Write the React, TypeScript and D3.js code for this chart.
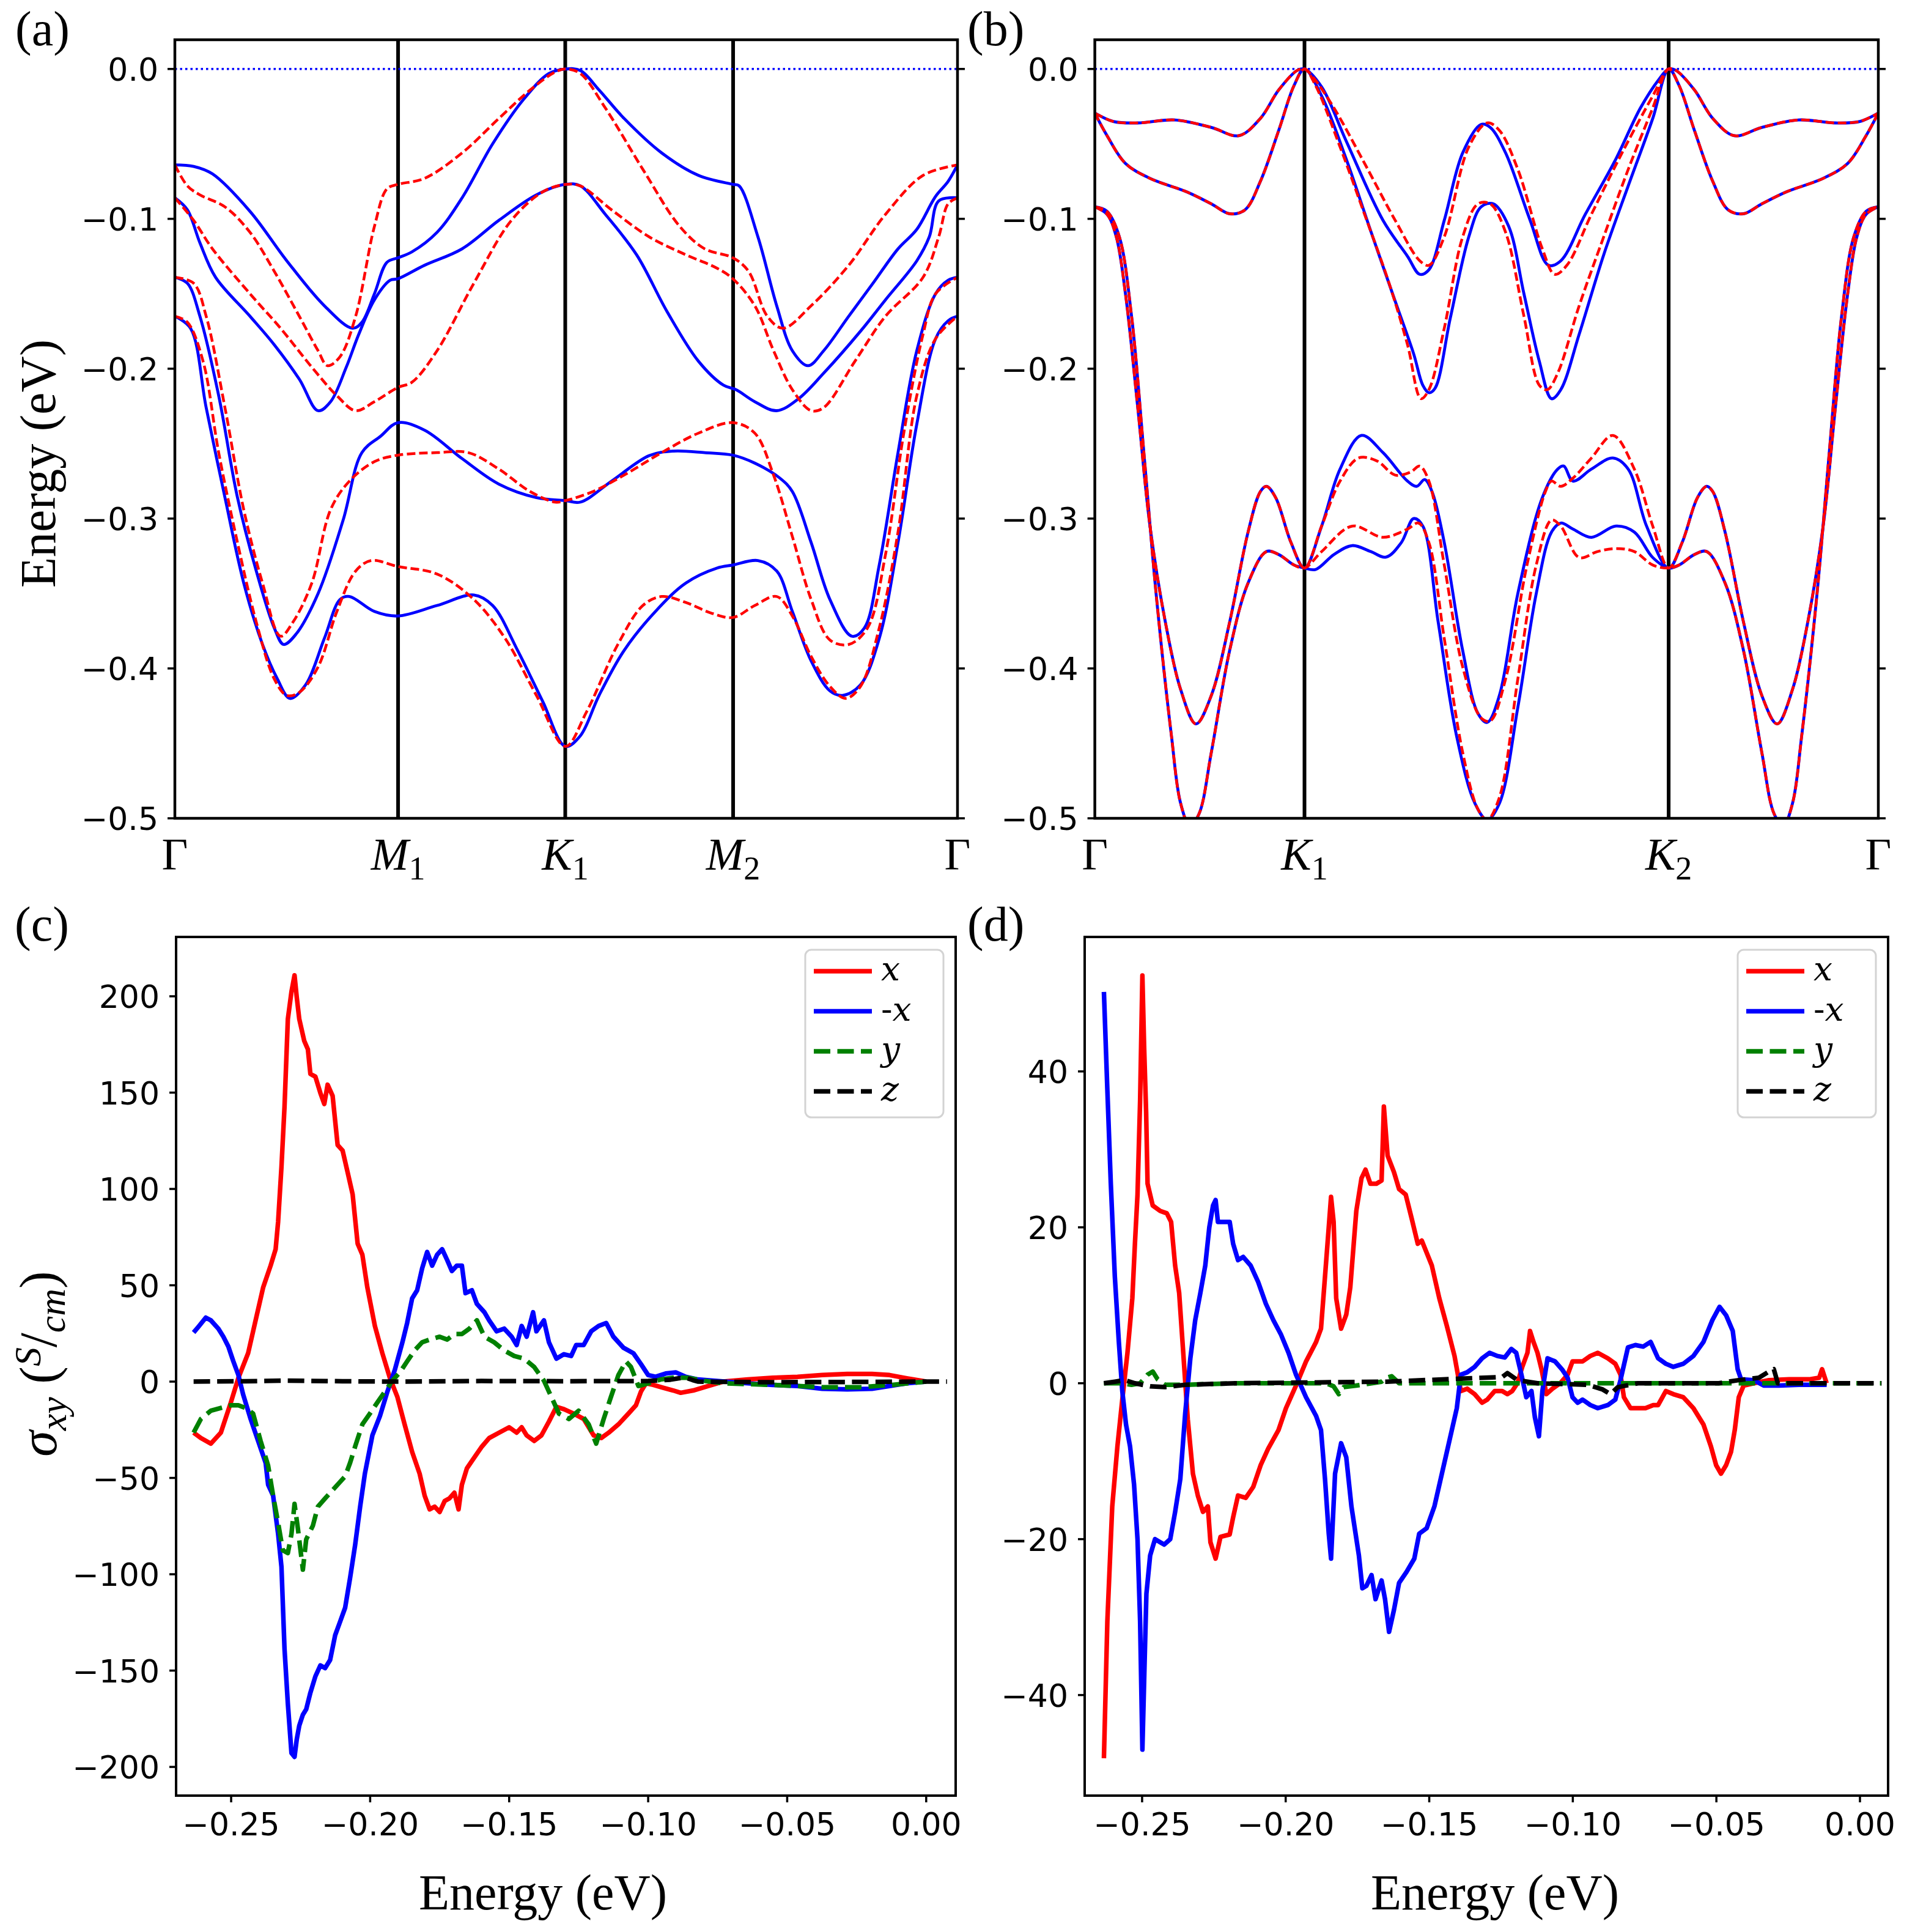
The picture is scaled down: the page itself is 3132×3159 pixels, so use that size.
import * as d3 from 'd3';
import { useEffect } from 'react';

type Pt = [number, number];

// ---------- (a) bands along Γ–M1–K1–M2–Γ (k as fraction of path, E in eV) ----------
const pathTicksA = [0, 0.2852, 0.4988, 0.7133, 1];
const pathLabelsA: [string, string][] = [['Γ', ''], ['M', '1'], ['K', '1'], ['M', '2'], ['Γ', '']];

const blueA1: Pt[] = [[0,-0.064],[0.024,-0.065],[0.048,-0.070],[0.096,-0.095],[0.143,-0.128],[0.191,-0.158],[0.227,-0.173],[0.239,-0.169],[0.255,-0.150],[0.271,-0.129],[0.285,-0.126],[0.303,-0.122],[0.335,-0.109],[0.367,-0.086],[0.406,-0.050],[0.446,-0.020],[0.478,-0.003],[0.499,0],[0.518,-0.001],[0.542,-0.014],[0.574,-0.033],[0.622,-0.056],[0.669,-0.071],[0.713,-0.077],[0.721,-0.078],[0.745,-0.112],[0.769,-0.158],[0.789,-0.188],[0.809,-0.198],[0.829,-0.188],[0.861,-0.165],[0.892,-0.143],[0.924,-0.120],[0.948,-0.107],[0.972,-0.085],[0.988,-0.075],[1,-0.064]];
const blueA2: Pt[] = [[0,-0.086],[0.016,-0.094],[0.032,-0.116],[0.052,-0.139],[0.096,-0.165],[0.127,-0.184],[0.159,-0.207],[0.183,-0.228],[0.199,-0.222],[0.219,-0.199],[0.235,-0.177],[0.255,-0.154],[0.275,-0.141],[0.285,-0.140],[0.319,-0.131],[0.367,-0.120],[0.414,-0.101],[0.462,-0.084],[0.499,-0.077],[0.518,-0.078],[0.550,-0.097],[0.590,-0.124],[0.629,-0.162],[0.669,-0.195],[0.701,-0.211],[0.717,-0.214],[0.741,-0.222],[0.769,-0.228],[0.797,-0.220],[0.829,-0.203],[0.876,-0.175],[0.908,-0.154],[0.948,-0.128],[0.964,-0.112],[0.976,-0.088],[1,-0.086]];
const blueA3: Pt[] = [[0,-0.139],[0.016,-0.143],[0.032,-0.165],[0.056,-0.218],[0.080,-0.286],[0.104,-0.335],[0.127,-0.373],[0.139,-0.384],[0.155,-0.377],[0.183,-0.350],[0.215,-0.301],[0.239,-0.256],[0.263,-0.245],[0.285,-0.236],[0.319,-0.241],[0.367,-0.260],[0.414,-0.277],[0.462,-0.286],[0.499,-0.288],[0.518,-0.289],[0.558,-0.275],[0.606,-0.258],[0.637,-0.255],[0.677,-0.256],[0.713,-0.2577],[0.741,-0.263],[0.773,-0.273],[0.789,-0.282],[0.813,-0.316],[0.837,-0.354],[0.865,-0.3785],[0.881,-0.373],[0.900,-0.331],[0.924,-0.256],[0.948,-0.188],[0.972,-0.150],[0.988,-0.141],[1,-0.139]];
const blueA4: Pt[] = [[0,-0.165],[0.020,-0.173],[0.040,-0.226],[0.064,-0.286],[0.088,-0.343],[0.112,-0.384],[0.131,-0.407],[0.147,-0.420],[0.167,-0.411],[0.191,-0.380],[0.211,-0.354],[0.223,-0.352],[0.255,-0.362],[0.285,-0.365],[0.335,-0.358],[0.382,-0.351],[0.406,-0.358],[0.438,-0.388],[0.470,-0.422],[0.499,-0.452],[0.518,-0.445],[0.542,-0.418],[0.574,-0.388],[0.614,-0.362],[0.653,-0.343],[0.693,-0.333],[0.713,-0.331],[0.745,-0.328],[0.769,-0.335],[0.789,-0.362],[0.813,-0.395],[0.837,-0.415],[0.853,-0.418],[0.876,-0.411],[0.900,-0.380],[0.924,-0.316],[0.948,-0.237],[0.972,-0.180],[0.988,-0.168],[1,-0.165]];

const redA1: Pt[] = [[0,-0.064],[0.016,-0.078],[0.032,-0.084],[0.064,-0.092],[0.096,-0.109],[0.127,-0.135],[0.159,-0.165],[0.183,-0.188],[0.195,-0.198],[0.211,-0.192],[0.231,-0.165],[0.255,-0.105],[0.271,-0.080],[0.285,-0.077],[0.319,-0.073],[0.367,-0.056],[0.414,-0.033],[0.454,-0.014],[0.486,-0.002],[0.499,0],[0.518,-0.003],[0.550,-0.026],[0.598,-0.067],[0.645,-0.105],[0.677,-0.120],[0.713,-0.126],[0.733,-0.135],[0.757,-0.165],[0.777,-0.173],[0.813,-0.158],[0.861,-0.131],[0.908,-0.097],[0.956,-0.071],[1,-0.064]];
const redA2: Pt[] = [[0,-0.086],[0.024,-0.101],[0.048,-0.120],[0.096,-0.150],[0.135,-0.173],[0.175,-0.199],[0.207,-0.218],[0.231,-0.228],[0.255,-0.222],[0.285,-0.2125],[0.303,-0.209],[0.335,-0.188],[0.382,-0.143],[0.430,-0.101],[0.470,-0.082],[0.499,-0.077],[0.518,-0.078],[0.558,-0.094],[0.606,-0.112],[0.653,-0.124],[0.693,-0.133],[0.713,-0.140],[0.741,-0.158],[0.765,-0.188],[0.789,-0.214],[0.813,-0.228],[0.829,-0.226],[0.869,-0.195],[0.908,-0.165],[0.956,-0.139],[0.976,-0.112],[0.988,-0.090],[1,-0.086]];
const redA3: Pt[] = [[0,-0.139],[0.024,-0.143],[0.040,-0.165],[0.064,-0.226],[0.088,-0.294],[0.112,-0.343],[0.135,-0.3785],[0.151,-0.369],[0.175,-0.343],[0.199,-0.294],[0.223,-0.275],[0.255,-0.262],[0.285,-0.2577],[0.335,-0.256],[0.375,-0.256],[0.414,-0.267],[0.454,-0.282],[0.486,-0.289],[0.499,-0.288],[0.534,-0.282],[0.574,-0.271],[0.622,-0.256],[0.669,-0.243],[0.713,-0.236],[0.741,-0.243],[0.765,-0.271],[0.789,-0.312],[0.813,-0.354],[0.837,-0.381],[0.861,-0.384],[0.885,-0.373],[0.908,-0.324],[0.932,-0.241],[0.956,-0.177],[0.972,-0.150],[1,-0.139]];
const redA4: Pt[] = [[0,-0.165],[0.016,-0.169],[0.036,-0.195],[0.056,-0.256],[0.080,-0.316],[0.104,-0.369],[0.127,-0.407],[0.143,-0.418],[0.159,-0.416],[0.183,-0.399],[0.207,-0.362],[0.231,-0.335],[0.251,-0.328],[0.285,-0.332],[0.335,-0.337],[0.382,-0.354],[0.422,-0.380],[0.462,-0.418],[0.499,-0.452],[0.526,-0.429],[0.566,-0.384],[0.598,-0.358],[0.622,-0.352],[0.653,-0.356],[0.685,-0.363],[0.713,-0.366],[0.741,-0.358],[0.769,-0.352],[0.789,-0.365],[0.813,-0.392],[0.837,-0.412],[0.857,-0.420],[0.876,-0.412],[0.900,-0.373],[0.924,-0.309],[0.948,-0.218],[0.972,-0.180],[1,-0.165]];

// ---------- (b) bands along Γ–K1–K2–Γ ----------
const pathTicksB = [0, 0.2676, 0.7324, 1];
const pathLabelsB: [string, string][] = [['Γ', ''], ['K', '1'], ['K', '2'], ['Γ', '']];

// outer segments, identical for both spins
const topL1: Pt[] = [[0,-0.0294],[0.0235,-0.035],[0.0548,-0.036],[0.1017,-0.034],[0.1487,-0.039],[0.1839,-0.0445],[0.2113,-0.033],[0.2347,-0.014],[0.2582,-0.001],[0.2676,0]];
const topR1: Pt[] = [[0.7324,0],[0.7418,-0.001],[0.7653,-0.014],[0.7887,-0.033],[0.8161,-0.0445],[0.8513,-0.039],[0.8983,-0.034],[0.9452,-0.036],[0.9765,-0.035],[1,-0.0294]];
const topL2: Pt[] = [[0,-0.0294],[0.0156,-0.0445],[0.0391,-0.063],[0.0704,-0.073],[0.1174,-0.082],[0.1487,-0.090],[0.1721,-0.0966],[0.1917,-0.094],[0.2113,-0.075],[0.2347,-0.041],[0.2543,-0.011],[0.2676,0]];
const topR2: Pt[] = [[0.7324,0],[0.7457,-0.011],[0.7653,-0.041],[0.7887,-0.075],[0.8083,-0.094],[0.8279,-0.0966],[0.8513,-0.090],[0.8826,-0.082],[0.9296,-0.073],[0.9609,-0.063],[0.9844,-0.0445],[1,-0.0294]];
const lowL1: Pt[] = [[0,-0.092],[0.0156,-0.097],[0.0274,-0.112],[0.0391,-0.150],[0.0548,-0.226],[0.0704,-0.305],[0.09,-0.369],[0.1095,-0.414],[0.1291,-0.437],[0.1487,-0.418],[0.1721,-0.369],[0.1956,-0.309],[0.2113,-0.282],[0.2191,-0.2785],[0.2308,-0.286],[0.2504,-0.316],[0.2676,-0.333]];
const lowR1: Pt[] = [[0.7324,-0.333],[0.7496,-0.316],[0.7692,-0.286],[0.7809,-0.2785],[0.7887,-0.282],[0.8044,-0.309],[0.8279,-0.369],[0.8513,-0.418],[0.8709,-0.437],[0.8905,-0.414],[0.91,-0.369],[0.9296,-0.305],[0.9452,-0.226],[0.9609,-0.150],[0.9726,-0.112],[0.9844,-0.097],[1,-0.092]];
const lowL2: Pt[] = [[0,-0.092],[0.0156,-0.095],[0.0313,-0.112],[0.0469,-0.165],[0.0626,-0.256],[0.0782,-0.350],[0.0978,-0.445],[0.1095,-0.490],[0.1213,-0.505],[0.133,-0.497],[0.1487,-0.456],[0.1721,-0.388],[0.1956,-0.343],[0.2191,-0.322],[0.2347,-0.324],[0.2543,-0.331],[0.2676,-0.333]];
const lowR2: Pt[] = [[0.7324,-0.333],[0.7457,-0.331],[0.7653,-0.324],[0.7809,-0.322],[0.8044,-0.343],[0.8279,-0.388],[0.8513,-0.456],[0.867,-0.497],[0.8787,-0.505],[0.8905,-0.490],[0.9022,-0.445],[0.9218,-0.350],[0.9374,-0.256],[0.9531,-0.165],[0.9687,-0.112],[0.9844,-0.095],[1,-0.092]];

// K1–K2 segment, spin dependent
const blueMidT1: Pt[] = [[0.2676,0],[0.2895,-0.012],[0.3208,-0.048],[0.3678,-0.101],[0.3991,-0.125],[0.4147,-0.137],[0.4264,-0.134],[0.446,-0.101],[0.4695,-0.056],[0.493,-0.037],[0.5047,-0.039],[0.5243,-0.056],[0.5556,-0.101],[0.579,-0.131],[0.5947,-0.128],[0.626,-0.097],[0.6651,-0.060],[0.6964,-0.026],[0.7199,-0.007],[0.7324,0]];
const blueMidT2: Pt[] = [[0.2676,0],[0.2895,-0.018],[0.3208,-0.060],[0.3521,-0.108],[0.3834,-0.155],[0.4069,-0.190],[0.4186,-0.211],[0.4264,-0.216],[0.4343,-0.213],[0.4538,-0.166],[0.4773,-0.112],[0.493,-0.092],[0.5086,-0.090],[0.5282,-0.105],[0.5477,-0.150],[0.5673,-0.195],[0.5829,-0.220],[0.5947,-0.214],[0.6182,-0.177],[0.6495,-0.124],[0.6808,-0.078],[0.7121,-0.033],[0.7324,0]];
const blueMidL1: Pt[] = [[0.2676,-0.333],[0.2895,-0.305],[0.313,-0.267],[0.3404,-0.2445],[0.3678,-0.256],[0.3991,-0.275],[0.4108,-0.2785],[0.421,-0.274],[0.4304,-0.282],[0.446,-0.316],[0.4695,-0.388],[0.489,-0.430],[0.5008,-0.436],[0.5164,-0.418],[0.5399,-0.350],[0.5712,-0.286],[0.5908,-0.267],[0.5986,-0.265],[0.6103,-0.275],[0.6338,-0.267],[0.6612,-0.2596],[0.6808,-0.267],[0.7042,-0.305],[0.7324,-0.333]];
const blueMidL2: Pt[] = [[0.2676,-0.333],[0.2817,-0.334],[0.3052,-0.324],[0.3286,-0.318],[0.3521,-0.322],[0.3717,-0.3257],[0.3912,-0.316],[0.4069,-0.300],[0.4186,-0.305],[0.4382,-0.369],[0.4617,-0.445],[0.4851,-0.490],[0.5008,-0.501],[0.5164,-0.490],[0.5399,-0.426],[0.5634,-0.350],[0.5829,-0.309],[0.5947,-0.303],[0.6103,-0.307],[0.6338,-0.3125],[0.6651,-0.305],[0.6886,-0.309],[0.7121,-0.326],[0.7324,-0.333]];
const redMidT1: Pt[] = [[0.2676,0],[0.2778,-0.005],[0.3052,-0.026],[0.3443,-0.063],[0.3834,-0.101],[0.4147,-0.128],[0.4264,-0.131],[0.446,-0.112],[0.4773,-0.052],[0.5008,-0.036],[0.5164,-0.041],[0.5399,-0.067],[0.5712,-0.120],[0.5869,-0.137],[0.6025,-0.131],[0.6338,-0.097],[0.6729,-0.056],[0.7121,-0.018],[0.7324,0]];
const redMidT2: Pt[] = [[0.2676,0],[0.2817,-0.011],[0.313,-0.052],[0.3443,-0.097],[0.3756,-0.143],[0.3991,-0.184],[0.4163,-0.220],[0.4264,-0.214],[0.446,-0.173],[0.4695,-0.112],[0.489,-0.090],[0.5047,-0.090],[0.5243,-0.109],[0.5477,-0.165],[0.5673,-0.211],[0.5775,-0.214],[0.5908,-0.203],[0.6182,-0.158],[0.6495,-0.112],[0.6808,-0.067],[0.7121,-0.026],[0.7324,0]];
const redMidL1: Pt[] = [[0.2676,-0.333],[0.2895,-0.305],[0.313,-0.275],[0.3365,-0.2596],[0.3599,-0.2615],[0.3834,-0.271],[0.403,-0.269],[0.4147,-0.265],[0.4264,-0.275],[0.446,-0.331],[0.4695,-0.399],[0.493,-0.433],[0.5047,-0.435],[0.5243,-0.407],[0.5516,-0.331],[0.5751,-0.282],[0.5829,-0.275],[0.5947,-0.2785],[0.6103,-0.273],[0.6338,-0.2596],[0.6612,-0.2445],[0.6886,-0.267],[0.7121,-0.305],[0.7324,-0.333]];
const redMidL2: Pt[] = [[0.2676,-0.333],[0.2895,-0.322],[0.3286,-0.305],[0.3678,-0.3125],[0.3991,-0.307],[0.4131,-0.303],[0.4264,-0.316],[0.446,-0.380],[0.4695,-0.456],[0.489,-0.494],[0.5008,-0.501],[0.5164,-0.486],[0.5399,-0.407],[0.5634,-0.331],[0.5829,-0.301],[0.5947,-0.305],[0.6182,-0.326],[0.6416,-0.322],[0.6651,-0.320],[0.6886,-0.322],[0.7121,-0.331],[0.7324,-0.333]];

const energyTicks = [0, -0.1, -0.2, -0.3, -0.4, -0.5];

// ---------- (c) σxy vs energy ----------
const sigmaCx: Pt[] = [[-0.2635,-26.5],[-0.2609,-29.3],[-0.2573,-32.2],[-0.2537,-26.5],[-0.2501,-10.8],[-0.2474,1.9],[-0.2439,14.7],[-0.2412,31.8],[-0.2385,48.8],[-0.2358,60.2],[-0.234,68.7],[-0.2331,83],[-0.2319,111.4],[-0.2308,142.7],[-0.2296,188.2],[-0.2283,202.4],[-0.2272,210.9],[-0.2264,199.5],[-0.2255,188.2],[-0.2237,176.8],[-0.2224,172.5],[-0.2215,159.7],[-0.2197,158.3],[-0.2179,149.8],[-0.2165,144.1],[-0.2153,154.1],[-0.2135,148.3],[-0.2117,122.8],[-0.2099,119.9],[-0.2081,108.6],[-0.2063,97.2],[-0.2045,71.6],[-0.2028,65.9],[-0.201,48.8],[-0.1983,28.9],[-0.1956,14.7],[-0.1929,1.9],[-0.1902,-8.0],[-0.1876,-22.2],[-0.1849,-36.5],[-0.1822,-47.8],[-0.1804,-59.2],[-0.1786,-66.3],[-0.1768,-64.9],[-0.175,-67.7],[-0.1732,-62],[-0.1715,-60.6],[-0.1697,-57.7],[-0.1682,-66.3],[-0.167,-53.5],[-0.1652,-45],[-0.1625,-39.3],[-0.1598,-33.7],[-0.1572,-29.3],[-0.1536,-26.5],[-0.15,-23.7],[-0.1473,-26.5],[-0.1455,-23.7],[-0.1437,-27.9],[-0.141,-30.8],[-0.1384,-27.9],[-0.1357,-20.8],[-0.133,-13.1],[-0.1303,-14.3],[-0.1268,-16.6],[-0.1232,-19.4],[-0.1196,-27.9],[-0.1169,-29.3],[-0.1142,-26.5],[-0.1107,-22.2],[-0.1071,-16.6],[-0.1044,-12.3],[-0.1026,-5.2],[-0.1008,-0.9],[-0.0982,-1.7],[-0.0946,-3.2],[-0.091,-4.6],[-0.0883,-5.8],[-0.0838,-4.6],[-0.0785,-2.3],[-0.0731,0],[-0.0642,1.1],[-0.0552,2.0],[-0.0463,2.5],[-0.0374,3.4],[-0.0284,4.0],[-0.0195,4.0],[-0.0132,3.4],[-0.007,1.7],[0,0]];
const sigmaCmx: Pt[] = [[-0.2635,25.5],[-0.2618,28.4],[-0.2591,33.2],[-0.2573,31.8],[-0.2546,27.5],[-0.2528,23.3],[-0.251,18.2],[-0.2492,10.5],[-0.2474,3.4],[-0.2457,-6.6],[-0.243,-19.4],[-0.2403,-30.8],[-0.2376,-42.1],[-0.2367,-53.5],[-0.2349,-59.2],[-0.2331,-79.1],[-0.2319,-96.1],[-0.2308,-138.8],[-0.2296,-167.2],[-0.2283,-192.8],[-0.2272,-194.8],[-0.2264,-185.7],[-0.2255,-178.6],[-0.2242,-172.9],[-0.223,-170.1],[-0.2215,-161.5],[-0.2197,-153],[-0.2179,-147.3],[-0.2162,-148.7],[-0.2144,-144.5],[-0.2126,-131.7],[-0.2108,-124.6],[-0.209,-117.4],[-0.2072,-101.8],[-0.2054,-84.8],[-0.2036,-64.9],[-0.2019,-47.8],[-0.1992,-27.9],[-0.1965,-18.0],[-0.1938,-5.2],[-0.1911,6.2],[-0.1884,20.4],[-0.1867,30.4],[-0.1849,43.2],[-0.1831,47.4],[-0.1813,58.8],[-0.1795,67.3],[-0.1777,60.2],[-0.1759,65.9],[-0.1741,68.7],[-0.1723,63.1],[-0.1706,57.4],[-0.1688,60.2],[-0.167,60.2],[-0.1657,45.9],[-0.1634,47.4],[-0.1616,40.3],[-0.1589,36.0],[-0.1572,31.8],[-0.1545,26.1],[-0.1518,27.5],[-0.1491,23.3],[-0.1473,19.0],[-0.1455,28.9],[-0.1437,23.3],[-0.1414,36.0],[-0.1402,26.1],[-0.1375,31.8],[-0.1357,20.4],[-0.133,11.9],[-0.1303,14.2],[-0.1277,13.3],[-0.1259,19.0],[-0.1232,19.0],[-0.1205,26.1],[-0.1178,28.9],[-0.1151,30.4],[-0.1125,23.3],[-0.1089,17.6],[-0.1053,14.7],[-0.1026,9.1],[-0.1,3.4],[-0.0973,2.5],[-0.0937,4.2],[-0.0901,4.8],[-0.0865,2.5],[-0.0821,1.1],[-0.0767,0.5],[-0.0642,-0.9],[-0.0552,-1.7],[-0.0463,-2.3],[-0.0374,-3.7],[-0.0284,-4.0],[-0.0195,-3.7],[-0.0132,-2.3],[-0.007,-0.9],[0,0]];
const sigmaCy: Pt[] = [[-0.2635,-26.5],[-0.2609,-19.4],[-0.2573,-15.1],[-0.2537,-13.7],[-0.2501,-12.3],[-0.2474,-12.3],[-0.2448,-13.7],[-0.2421,-16.6],[-0.2394,-30.8],[-0.2367,-43.6],[-0.2349,-59.2],[-0.2331,-73.4],[-0.2314,-87.6],[-0.2296,-89.0],[-0.2283,-79.1],[-0.2272,-63.5],[-0.226,-76.2],[-0.2242,-97.6],[-0.223,-81.9],[-0.2206,-74.8],[-0.2188,-64.9],[-0.2162,-60.6],[-0.2126,-54.9],[-0.209,-49.2],[-0.2072,-42.1],[-0.2054,-33.7],[-0.2028,-22.2],[-0.2001,-16.6],[-0.1974,-10.8],[-0.1947,-5.2],[-0.192,0.5],[-0.1893,4.8],[-0.1867,10.5],[-0.184,16.2],[-0.1813,20.4],[-0.1786,21.8],[-0.175,23.3],[-0.1723,21.8],[-0.1697,24.7],[-0.167,24.7],[-0.1643,27.5],[-0.1616,31.8],[-0.1589,23.3],[-0.1554,20.4],[-0.1518,16.2],[-0.1482,13.3],[-0.1446,11.9],[-0.141,7.6],[-0.1375,0.5],[-0.1348,-8.0],[-0.1321,-16.6],[-0.1285,-19.4],[-0.125,-15.1],[-0.1214,-22.2],[-0.1187,-32.2],[-0.116,-19.4],[-0.1134,-8.0],[-0.1107,3.4],[-0.108,10.5],[-0.1062,7.6],[-0.1035,-2.3],[-0.1,-0.9],[-0.0955,1.1],[-0.091,2.0],[-0.0856,2.0],[-0.0803,0.5],[-0.0731,-0.9],[-0.0552,-1.7],[-0.0374,-2.9],[-0.0231,-2.9],[-0.0123,-1.7],[0,0]];
const sigmaCz: Pt[] = [[-0.2635,0],[-0.245,0.2],[-0.23,0.5],[-0.21,0.2],[-0.193,0],[-0.16,0.3],[-0.13,0.2],[-0.1,0.3],[-0.092,1.0],[-0.0892,1.7],[-0.0865,2.0],[-0.084,0.8],[-0.082,0],[-0.06,-0.3],[-0.03,-0.2],[0,0],[0.0075,0]];

// ---------- (d) σxy vs energy ----------
const sigmaDx: Pt[] = [[-0.2633,-48.1],[-0.2621,-30.5],[-0.2604,-15.8],[-0.2586,-8.1],[-0.2569,-2.1],[-0.2551,3.9],[-0.2534,10.9],[-0.2525,17.9],[-0.2516,24.2],[-0.2507,36.2],[-0.2499,52.3],[-0.2493,43.2],[-0.2486,34.8],[-0.2481,25.6],[-0.2463,22.8],[-0.2437,22.1],[-0.2414,21.8],[-0.2399,20.7],[-0.2385,15.1],[-0.2371,11.6],[-0.2358,4.6],[-0.2341,-4.6],[-0.2323,-11.6],[-0.2306,-14.4],[-0.2288,-16.5],[-0.2271,-15.8],[-0.2262,-20.4],[-0.2244,-22.5],[-0.2227,-19.7],[-0.2195,-19.4],[-0.2183,-17.2],[-0.2166,-14.4],[-0.2139,-14.7],[-0.2113,-13.3],[-0.2087,-10.5],[-0.2061,-8.4],[-0.2025,-6.0],[-0.1999,-3.2],[-0.1964,-0.3],[-0.1929,2.8],[-0.1894,5.3],[-0.1877,7.0],[-0.1863,13.7],[-0.185,20.0],[-0.1842,23.9],[-0.1833,20.7],[-0.1824,10.9],[-0.1807,7.0],[-0.1789,8.8],[-0.1775,12.3],[-0.1754,22.1],[-0.1736,26.3],[-0.1722,27.4],[-0.1705,25.6],[-0.1684,25.6],[-0.1666,26.0],[-0.1658,35.5],[-0.1645,29.2],[-0.1623,27.1],[-0.1605,24.9],[-0.1582,24.2],[-0.1561,21.1],[-0.154,17.9],[-0.1526,18.3],[-0.1491,15.1],[-0.1465,10.9],[-0.1439,7.4],[-0.1412,3.5],[-0.139,-1.0],[-0.1368,-0.7],[-0.1342,-1.4],[-0.1316,-2.5],[-0.1298,-2.1],[-0.1272,-1.0],[-0.1246,-1.0],[-0.1228,-1.4],[-0.1211,-1.0],[-0.1193,0],[-0.1176,2.1],[-0.1158,3.9],[-0.1149,6.7],[-0.1137,5.3],[-0.1123,3.9],[-0.1109,1.8],[-0.1092,-1.4],[-0.1071,-0.7],[-0.1044,0],[-0.1018,1.1],[-0.1001,2.8],[-0.0966,2.8],[-0.0939,3.5],[-0.0913,3.9],[-0.0878,3.2],[-0.0852,2.5],[-0.0834,1.1],[-0.0822,-1.8],[-0.0799,-3.2],[-0.0773,-3.2],[-0.0747,-3.2],[-0.072,-2.8],[-0.0703,-2.8],[-0.0676,-1.0],[-0.065,-1.4],[-0.0615,-1.8],[-0.058,-3.2],[-0.0545,-5.3],[-0.0519,-8.1],[-0.0501,-10.5],[-0.0484,-11.6],[-0.0466,-10.5],[-0.0449,-8.8],[-0.0436,-6.0],[-0.0422,-1.8],[-0.0405,-0.3],[-0.037,0],[-0.0317,0.4],[-0.0247,0.5],[-0.0177,0.5],[-0.0142,0.7],[-0.0132,1.8],[-0.0116,0]];
const sigmaDmx: Pt[] = [[-0.2633,50.2],[-0.2621,37.6],[-0.2609,25.6],[-0.2595,13.7],[-0.2581,5.3],[-0.2569,-1.0],[-0.2556,-5.3],[-0.2542,-8.1],[-0.2528,-13.0],[-0.2516,-20.0],[-0.2507,-30.5],[-0.2499,-47.0],[-0.249,-34.0],[-0.2485,-27.0],[-0.2472,-22.1],[-0.2455,-20.0],[-0.2437,-20.4],[-0.2423,-20.7],[-0.2402,-20.0],[-0.2385,-16.5],[-0.2367,-12.3],[-0.235,-3.9],[-0.2332,3.2],[-0.2315,8.1],[-0.2297,11.6],[-0.228,15.1],[-0.2266,20.0],[-0.2253,22.8],[-0.2244,23.5],[-0.2236,20.7],[-0.2218,20.7],[-0.2195,20.7],[-0.2183,17.9],[-0.2166,15.8],[-0.2148,16.2],[-0.2122,15.1],[-0.2096,13.0],[-0.2069,10.2],[-0.2043,8.1],[-0.2017,6.3],[-0.199,3.9],[-0.1964,1.1],[-0.1929,-1.8],[-0.1894,-4.2],[-0.1877,-6.0],[-0.1863,-12.3],[-0.185,-19.3],[-0.1842,-22.5],[-0.1828,-11.6],[-0.1807,-7.7],[-0.1789,-9.5],[-0.1771,-15.8],[-0.1745,-22.1],[-0.1733,-26.3],[-0.1719,-26.0],[-0.1701,-24.6],[-0.1687,-27.7],[-0.1666,-25.3],[-0.1654,-27.7],[-0.164,-31.9],[-0.1623,-29.1],[-0.1605,-25.6],[-0.1579,-24.2],[-0.1552,-22.5],[-0.1535,-19.3],[-0.1509,-18.6],[-0.1482,-15.8],[-0.1456,-11.6],[-0.143,-7.4],[-0.1404,-3.2],[-0.139,1.1],[-0.1368,1.4],[-0.1342,2.1],[-0.1316,3.2],[-0.129,3.9],[-0.1263,3.5],[-0.1237,3.3],[-0.1214,4.4],[-0.1197,3.9],[-0.1179,1.1],[-0.1162,-1.8],[-0.1144,-1.0],[-0.1132,-4.4],[-0.1118,-6.8],[-0.1106,-1.0],[-0.1088,3.2],[-0.1062,2.8],[-0.1036,1.7],[-0.1018,0.7],[-0.1001,-1.8],[-0.0983,-2.5],[-0.0966,-2.1],[-0.0939,-2.8],[-0.0913,-3.2],[-0.0878,-2.8],[-0.0852,-2.1],[-0.0834,0.4],[-0.0808,4.6],[-0.0782,4.9],[-0.0755,4.7],[-0.0729,5.3],[-0.0703,3.2],[-0.0676,2.5],[-0.065,2.1],[-0.0615,2.5],[-0.058,3.5],[-0.0545,5.3],[-0.0514,8.1],[-0.0489,9.8],[-0.0466,8.7],[-0.0443,6.7],[-0.0426,1.8],[-0.0414,0.5],[-0.037,0.4],[-0.0335,-0.3],[-0.0282,-0.3],[-0.0212,-0.2],[-0.0116,-0.2]];
const sigmaDy: Pt[] = [[-0.2633,0],[-0.2573,0],[-0.2537,-0.2],[-0.2507,0],[-0.2481,1.1],[-0.2463,1.5],[-0.2446,0.5],[-0.242,-0.2],[-0.235,-0.2],[-0.2174,0],[-0.1859,0],[-0.1833,-0.4],[-0.1815,-1.4],[-0.1798,-0.5],[-0.1754,-0.3],[-0.1666,0.2],[-0.1649,0.7],[-0.1631,0.9],[-0.1605,0],[-0.1474,0],[-0.0948,0],[-0.0422,0],[0.0075,0]];
const sigmaDz: Pt[] = [[-0.2633,0],[-0.2595,0.2],[-0.256,0.4],[-0.2525,0],[-0.2472,-0.4],[-0.242,-0.5],[-0.235,-0.2],[-0.2174,0],[-0.1649,0.2],[-0.1246,0.8],[-0.1228,1.3],[-0.1193,0.4],[-0.1123,0],[-0.0948,-0.2],[-0.0896,-0.8],[-0.0869,-1.4],[-0.0843,-0.5],[-0.0773,0],[-0.0492,0],[-0.0422,0.4],[-0.0352,0.7],[-0.0317,1.5],[-0.03,1.8],[-0.0286,0],[-0.0212,0],[0.0075,0]];

const energyTicksSigma = [-0.25, -0.2, -0.15, -0.1, -0.05, 0];
const sigmaTicksC = [-200, -150, -100, -50, 0, 50, 100, 150, 200];
const sigmaTicksD = [-40, -20, 0, 20, 40];
const legendLabels = ['x', '-x', 'y', 'z'];

// ---------- layout and styling ----------
const FIG_W = 3132;
const FIG_H = 3159;
const SERIF = '"Liberation Serif", "Times New Roman", serif';
const SANS = '"DejaVu Sans", sans-serif';
const LEGEND_FONT = '"DejaVu Serif", serif';

type Frame = { x0: number; x1: number; y0: number; y1: number };
const frameA: Frame = { x0: 286, x1: 1566, y0: 65, y1: 1338 };
const frameB: Frame = { x0: 1790.6, x1: 3072, y0: 65, y1: 1338 };
const frameC: Frame = { x0: 288, x1: 1563, y0: 1532, y1: 2936 };
const frameD: Frame = { x0: 1774, x1: 3088, y0: 1532, y1: 2936 };

const seriesStyle = [
    { color: '#ff0000', dash: undefined as string | undefined },
    { color: '#0000ff', dash: undefined as string | undefined },
    { color: '#008000', dash: '27,11.5' },
    { color: '#000000', dash: '27,11.5' },
];

function BandPanel(props: {
    frame: Frame;
    ticks: number[];
    labels: [string, string][];
    blue: Pt[][];
    red: Pt[][];
    id: string;
}) {
    const { frame, ticks, labels, blue, red, id } = props;
    const x = d3.scaleLinear().domain([0, 1]).range([frame.x0, frame.x1]);
    const y = d3.scaleLinear().domain([-0.5, 0.0195]).range([frame.y1, frame.y0]);
    const line = d3
        .line<Pt>()
        .x((d) => x(d[0]))
        .y((d) => y(d[1]))
        .curve(d3.curveCatmullRom.alpha(0.5));
    const fmt = d3.format('.1f');
    return (
        <g>
            <defs>
                <clipPath id={id}>
                    <rect x={frame.x0} y={frame.y0} width={frame.x1 - frame.x0} height={frame.y1 - frame.y0} />
                </clipPath>
            </defs>
            <g clipPath={`url(#${id})`}>
                {ticks.slice(1, -1).map((t) => (
                    <line key={t} x1={x(t)} x2={x(t)} y1={frame.y0} y2={frame.y1} stroke="#000" strokeWidth={6} />
                ))}
                <line x1={frame.x0} x2={frame.x1} y1={y(0)} y2={y(0)} stroke="#0000ff" strokeWidth={3.5} strokeDasharray="3.5,5" />
                {blue.map((b, i) => (
                    <path key={'b' + i} d={line(b) ?? ''} fill="none" stroke="#0000ff" strokeWidth={4.8} />
                ))}
                {red.map((b, i) => (
                    <path key={'r' + i} d={line(b) ?? ''} fill="none" stroke="#ff0000" strokeWidth={4.5} strokeDasharray="14,6" />
                ))}
            </g>
            <rect x={frame.x0} y={frame.y0} width={frame.x1 - frame.x0} height={frame.y1 - frame.y0} fill="none" stroke="#000" strokeWidth={4.5} />
            {energyTicks.map((t) => (
                <g key={t}>
                    <line x1={frame.x0 - 12} x2={frame.x0} y1={y(t)} y2={y(t)} stroke="#000" strokeWidth={3.5} />
                    <line x1={frame.x1} x2={frame.x1 + 12} y1={y(t)} y2={y(t)} stroke="#000" strokeWidth={3.5} />
                    <text x={frame.x0 - 27} y={y(t) + 19} textAnchor="end" fontFamily={SANS} fontSize={52}>
                        {fmt(t)}
                    </text>
                </g>
            ))}
            {ticks.map((t, i) => (
                <text key={'k' + i} x={x(t)} y={1422} textAnchor="middle" fontFamily={SERIF} fontSize={74}>
                    <tspan fontStyle={labels[i][1] ? 'italic' : 'normal'}>{labels[i][0]}</tspan>
                    {labels[i][1] && (
                        <tspan fontSize={54} dy={16}>
                            {labels[i][1]}
                        </tspan>
                    )}
                </text>
            ))}
        </g>
    );
}

function LegendLabel({ label }: { label: string }) {
    if (label.startsWith('-')) {
        return (
            <>
                <tspan>-</tspan>
                <tspan fontStyle="italic">{label.slice(1)}</tspan>
            </>
        );
    }
    return <tspan fontStyle="italic">{label}</tspan>;
}

function SigmaPanel(props: {
    frame: Frame;
    xDomain: [number, number];
    yDomain: [number, number];
    yTicks: number[];
    series: Pt[][];
    id: string;
}) {
    const { frame, xDomain, yDomain, yTicks, series, id } = props;
    const x = d3.scaleLinear().domain(xDomain).range([frame.x0, frame.x1]);
    const y = d3.scaleLinear().domain(yDomain).range([frame.y1, frame.y0]);
    const line = d3
        .line<Pt>()
        .x((d) => x(d[0]))
        .y((d) => y(d[1]));
    const fx = d3.format('.2f');
    const fy = d3.format('d');
    const lx = frame.x1 - 246;
    const ly = frame.y0 + 21;
    return (
        <g>
            <defs>
                <clipPath id={id}>
                    <rect x={frame.x0} y={frame.y0} width={frame.x1 - frame.x0} height={frame.y1 - frame.y0} />
                </clipPath>
            </defs>
            <g clipPath={`url(#${id})`}>
                {series.map((s, i) => (
                    <path
                        key={i}
                        d={line(s) ?? ''}
                        fill="none"
                        stroke={seriesStyle[i].color}
                        strokeWidth={7.5}
                        strokeDasharray={seriesStyle[i].dash}
                        strokeLinejoin="round"
                    />
                ))}
            </g>
            <rect x={frame.x0} y={frame.y0} width={frame.x1 - frame.x0} height={frame.y1 - frame.y0} fill="none" stroke="#000" strokeWidth={4} />
            {yTicks.map((t) => (
                <g key={t}>
                    <line x1={frame.x0 - 11} x2={frame.x0} y1={y(t)} y2={y(t)} stroke="#000" strokeWidth={3.5} />
                    <text x={frame.x0 - 27} y={y(t) + 19} textAnchor="end" fontFamily={SANS} fontSize={52}>
                        {fy(t)}
                    </text>
                </g>
            ))}
            {energyTicksSigma.map((t) => (
                <g key={t}>
                    <line x1={x(t)} x2={x(t)} y1={frame.y1} y2={frame.y1 + 11} stroke="#000" strokeWidth={3.5} />
                    <text x={x(t)} y={3001} textAnchor="middle" fontFamily={SANS} fontSize={52}>
                        {fx(t)}
                    </text>
                </g>
            ))}
            <rect x={lx} y={ly} width={226} height={274} rx={10} fill="#fff" fillOpacity={0.8} stroke="#d3d3d3" strokeWidth={3} />
            {legendLabels.map((lab, i) => {
                const cy = ly + 35 + i * 65.5;
                return (
                    <g key={lab}>
                        <line
                            x1={lx + 14}
                            x2={lx + 109}
                            y1={cy}
                            y2={cy}
                            stroke={seriesStyle[i].color}
                            strokeWidth={7.5}
                            strokeDasharray={seriesStyle[i].dash}
                        />
                        <text x={lx + 124} y={cy + 15} fontFamily={LEGEND_FONT} fontSize={55}>
                            <LegendLabel label={lab} />
                        </text>
                    </g>
                );
            })}
        </g>
    );
}

export default function App() {
    useEffect(() => {
        document.body.style.margin = '0';
    }, []);

    const blueB = [
        [...topL1, ...blueMidT1.slice(1), ...topR1.slice(1)],
        [...topL2, ...blueMidT2.slice(1), ...topR2.slice(1)],
        [...lowL1, ...blueMidL1.slice(1), ...lowR1.slice(1)],
        [...lowL2, ...blueMidL2.slice(1), ...lowR2.slice(1)],
    ];
    const redB = [
        [...topL1, ...redMidT1.slice(1), ...topR1.slice(1)],
        [...topL2, ...redMidT2.slice(1), ...topR2.slice(1)],
        [...lowL1, ...redMidL1.slice(1), ...lowR1.slice(1)],
        [...lowL2, ...redMidL2.slice(1), ...lowR2.slice(1)],
    ];

    return (
        <svg width={FIG_W} height={FIG_H} viewBox={`0 0 ${FIG_W} ${FIG_H}`} style={{ display: 'block', background: '#fff' }}>
            <rect width={FIG_W} height={FIG_H} fill="#fff" />
            <BandPanel
                frame={frameA}
                ticks={pathTicksA}
                labels={pathLabelsA}
                blue={[blueA1, blueA2, blueA3, blueA4]}
                red={[redA1, redA2, redA3, redA4]}
                id="clipA"
            />
            <BandPanel frame={frameB} ticks={pathTicksB} labels={pathLabelsB} blue={blueB} red={redB} id="clipB" />
            <SigmaPanel
                frame={frameC}
                xDomain={[-0.2698, 0.0106]}
                yDomain={[-214.9, 230.8]}
                yTicks={sigmaTicksC}
                series={[sigmaCx, sigmaCmx, sigmaCy, sigmaCz]}
                id="clipC"
            />
            <SigmaPanel
                frame={frameD}
                xDomain={[-0.27, 0.0098]}
                yDomain={[-52.9, 57.25]}
                yTicks={sigmaTicksD}
                series={[sigmaDx, sigmaDmx, sigmaDy, sigmaDz]}
                id="clipD"
            />

            {/* panel letters */}
            <text x={25} y={74} fontFamily={SERIF} fontSize={80}>(a)</text>
            <text x={1582} y={74} fontFamily={SERIF} fontSize={80}>(b)</text>
            <text x={24} y={1538} fontFamily={SERIF} fontSize={80}>(c)</text>
            <text x={1582} y={1538} fontFamily={SERIF} fontSize={80}>(d)</text>

            {/* axis titles */}
            <text transform="translate(90,758) rotate(-90)" textAnchor="middle" fontFamily={SERIF} fontSize={82}>
                Energy (eV)
            </text>
            <text transform="translate(92,2230) rotate(-90)" textAnchor="middle" fontFamily={SERIF} fontSize={86}>
                <tspan fontStyle="italic">σ</tspan>
                <tspan fontStyle="italic" fontSize={62} dy={16}>xy</tspan>
                <tspan dy={-16}> (</tspan>
                <tspan fontStyle="italic" fontSize={62} dy={-26}>S</tspan>
                <tspan dy={26}>/</tspan>
                <tspan fontStyle="italic" fontSize={62} dy={14}>cm</tspan>
                <tspan dy={-14}>)</tspan>
            </text>
            <text x={888} y={3122} textAnchor="middle" fontFamily={SERIF} fontSize={82}>
                Energy (eV)
            </text>
            <text x={2445} y={3122} textAnchor="middle" fontFamily={SERIF} fontSize={82}>
                Energy (eV)
            </text>
        </svg>
    );
}
